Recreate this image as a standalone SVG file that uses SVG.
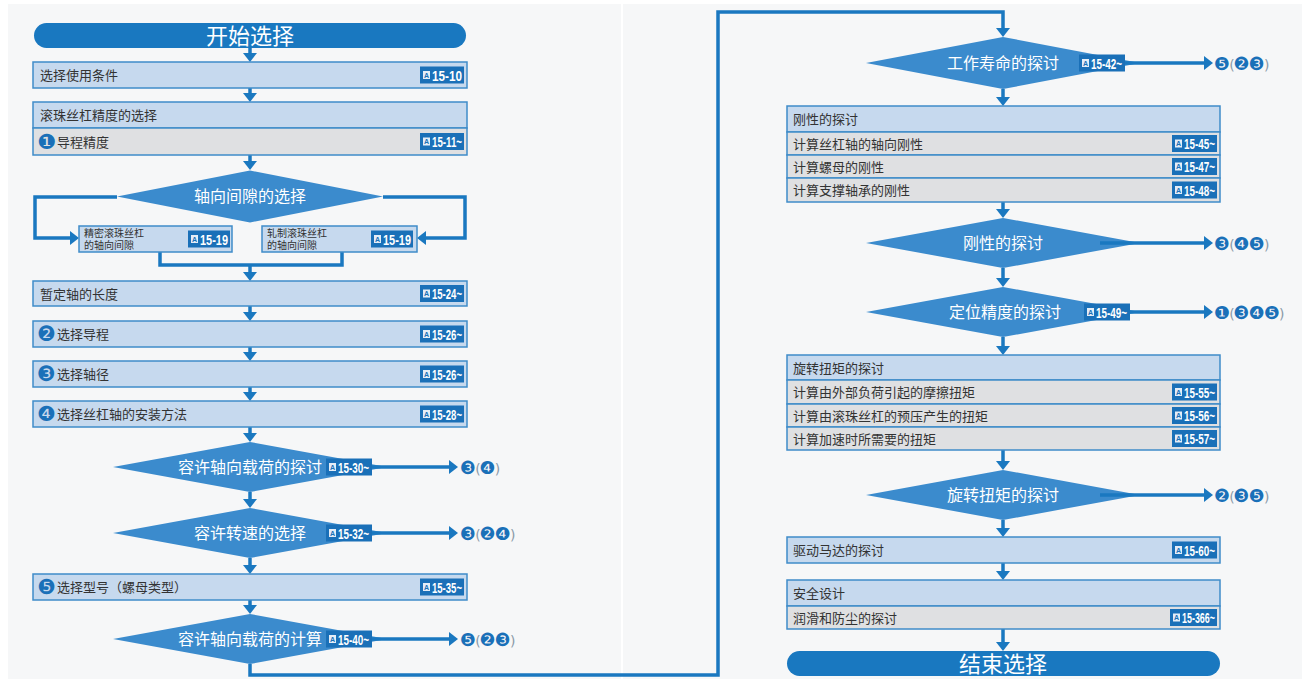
<svg xmlns="http://www.w3.org/2000/svg" xmlns:xlink="http://www.w3.org/1999/xlink" width="1302" height="679" viewBox="0 0 1302 679">
<style>
.bx{fill:#c6d9ee;stroke:#3f8cc9;stroke-width:1.5}
.gr{fill:#dfe0e2;stroke:#3f8cc9;stroke-width:1.5}
.t{font-family:"Noto Sans CJK SC",sans-serif;font-size:13px;fill:#333}
.ts{font-family:"Noto Sans CJK SC",sans-serif;font-size:10px;fill:#333}
.dm{fill:#3b8bcd}
.dt{font-family:"Noto Sans CJK SC",sans-serif;font-size:16px;fill:#fff;text-anchor:middle}
.pill{fill:#1978c0}
.pt{font-family:"Noto Sans CJK SC",sans-serif;font-size:22px;fill:#fff;text-anchor:middle}
.bd{fill:#1a70b8}
.ic{fill:#e4edf7}
.it{font-family:"Liberation Sans",sans-serif;font-size:7px;font-weight:bold;fill:#1a70b8;text-anchor:middle}
.bt{font-family:"Liberation Sans",sans-serif;font-weight:bold;font-size:14px;fill:#fff}
.c{stroke:#1a78c0;stroke-width:3.5;fill:none}
.num{font-family:"DejaVu Sans",sans-serif;font-size:21px;fill:#1a70b8}
.lab{font-family:"DejaVu Sans",sans-serif;font-size:18px;fill:#1a70b8;letter-spacing:-1px}
.par{fill:#8a9aa8;font-size:14px}
</style>
<defs>
<marker id="ah" markerUnits="userSpaceOnUse" markerWidth="9" markerHeight="14" refX="0" refY="7" orient="auto" viewBox="0 0 9 14">
<path d="M0,0 L9,7 L0,14 z" fill="#1a78c0"/>
</marker>
<g id="ico"><rect class="ic" x="0" y="0" width="7" height="8"/><text class="it" x="3.5" y="6.8">A</text></g>
</defs>
<rect x="0" y="0" width="1302" height="679" fill="#ffffff"/>
<rect x="8" y="4" width="1294" height="675" fill="#f6f7f8"/>
<rect x="621" y="0" width="2" height="679" fill="#ffffff"/>

<g id="connectors">
<path class="c" d="M250,48 V53" marker-end="url(#ah)"/>
<path class="c" d="M250,88 V93" marker-end="url(#ah)"/>
<path class="c" d="M250,155 V161" marker-end="url(#ah)"/>
<path class="c" d="M117,197 H35 V238 H70" marker-end="url(#ah)"/>
<path class="c" d="M383,197 H465 V238 H426" marker-end="url(#ah)"/>
<path class="c" d="M160,252 V265 H342 V252"/>
<path class="c" d="M250,265 V272" marker-end="url(#ah)"/>
<path class="c" d="M250,306 V312" marker-end="url(#ah)"/>
<path class="c" d="M250,347 V352" marker-end="url(#ah)"/>
<path class="c" d="M250,387 V392" marker-end="url(#ah)"/>
<path class="c" d="M250,427 V433" marker-end="url(#ah)"/>
<path class="c" d="M250,492 V499" marker-end="url(#ah)"/>
<path class="c" d="M250,558 V565" marker-end="url(#ah)"/>
<path class="c" d="M250,600 V605" marker-end="url(#ah)"/>
<path class="c" d="M250,664 V675 H718 V12 H1003 V28" marker-end="url(#ah)"/>
<path class="c" d="M1003,89 V97" marker-end="url(#ah)"/>
<path class="c" d="M1003,202 V209" marker-end="url(#ah)"/>
<path class="c" d="M1003,268 V278" marker-end="url(#ah)"/>
<path class="c" d="M1003,337 V346" marker-end="url(#ah)"/>
<path class="c" d="M1003,450 V461" marker-end="url(#ah)"/>
<path class="c" d="M1003,520 V528" marker-end="url(#ah)"/>
<path class="c" d="M1003,563 V571" marker-end="url(#ah)"/>
<path class="c" d="M1003,629 V642" marker-end="url(#ah)"/>
</g>

<g id="start">
<rect class="pill" x="34" y="23" width="432" height="25" rx="12.5"/>
<text class="pt" x="250" y="44">开始选择</text>
</g>

<g id="n-conditions">
<rect class="bx" x="33" y="62" width="434" height="26"/>
<text class="t" x="40" y="80">选择使用条件</text>
<rect class="bd" x="420" y="66.5" width="44" height="17"/><use xlink:href="#ico" x="423" y="71"/>
<text class="bt" x="432" y="80.5" textLength="30" lengthAdjust="spacingAndGlyphs">15-10</text>
</g>

<g id="n-precision">
<rect class="bx" x="33" y="102" width="434" height="26"/>
<text class="t" x="40" y="120">滚珠丝杠精度的选择</text>
<rect class="gr" x="33" y="128" width="434" height="27"/>
<text class="num" x="37" y="149">❶</text>
<text class="t" x="57" y="147">导程精度</text>
<rect class="bd" x="420" y="133" width="44" height="17"/><use xlink:href="#ico" x="423" y="137.5"/>
<text class="bt" x="432" y="147" textLength="30" lengthAdjust="spacingAndGlyphs">15-11~</text>
</g>

<g id="d-clearance">
<polygon class="dm" points="117,196.5 250,170.5 383,196.5 250,222.5"/>
<text class="dt" x="250" y="202">轴向间隙的选择</text>
</g>

<g id="n-precision-clearance">
<rect class="bx" x="79" y="226" width="153" height="26"/>
<text class="ts" x="84" y="236.5">精密滚珠丝杠</text>
<text class="ts" x="84" y="249">的轴向间隙</text>
<rect class="bd" x="188" y="230.5" width="42" height="17"/><use xlink:href="#ico" x="191" y="235"/>
<text class="bt" x="200" y="244.5" textLength="28" lengthAdjust="spacingAndGlyphs">15-19</text>
</g>

<g id="n-rolled-clearance">
<rect class="bx" x="262" y="226" width="155" height="26"/>
<text class="ts" x="267" y="236.5">轧制滚珠丝杠</text>
<text class="ts" x="267" y="249">的轴向间隙</text>
<rect class="bd" x="371" y="230.5" width="42" height="17"/><use xlink:href="#ico" x="374" y="235"/>
<text class="bt" x="383" y="244.5" textLength="28" lengthAdjust="spacingAndGlyphs">15-19</text>
</g>

<g id="n-length">
<rect class="bx" x="33" y="281" width="434" height="25"/>
<text class="t" x="40" y="298.5">暂定轴的长度</text>
<rect class="bd" x="420" y="285" width="44" height="17"/><use xlink:href="#ico" x="423" y="289.5"/>
<text class="bt" x="432" y="299" textLength="30" lengthAdjust="spacingAndGlyphs">15-24~</text>
</g>

<g id="n-lead">
<rect class="bx" x="33" y="321" width="434" height="26"/>
<text class="num" x="37" y="341">❷</text>
<text class="t" x="57" y="339">选择导程</text>
<rect class="bd" x="420" y="325.5" width="44" height="17"/><use xlink:href="#ico" x="423" y="330"/>
<text class="bt" x="432" y="339.5" textLength="30" lengthAdjust="spacingAndGlyphs">15-26~</text>
</g>

<g id="n-diameter">
<rect class="bx" x="33" y="361" width="434" height="26"/>
<text class="num" x="37" y="381">❸</text>
<text class="t" x="57" y="379">选择轴径</text>
<rect class="bd" x="420" y="365.5" width="44" height="17"/><use xlink:href="#ico" x="423" y="370"/>
<text class="bt" x="432" y="379.5" textLength="30" lengthAdjust="spacingAndGlyphs">15-26~</text>
</g>

<g id="n-mounting">
<rect class="bx" x="33" y="401" width="434" height="26"/>
<text class="num" x="37" y="421">❹</text>
<text class="t" x="57" y="419">选择丝杠轴的安装方法</text>
<rect class="bd" x="420" y="405.5" width="44" height="17"/><use xlink:href="#ico" x="423" y="410"/>
<text class="bt" x="432" y="419.5" textLength="30" lengthAdjust="spacingAndGlyphs">15-28~</text>
</g>

<g id="d-axial-load">
<polygon class="dm" points="113,467 250,442 387,467 250,492"/>
<text class="dt" x="250" y="472.5">容许轴向载荷的探讨</text>
<rect class="bd" x="326" y="458.5" width="46" height="17"/><use xlink:href="#ico" x="329" y="463"/>
<text class="bt" x="338" y="472.5" textLength="31" lengthAdjust="spacingAndGlyphs">15-30~</text>
<path class="c" d="M372,467 H449" marker-end="url(#ah)"/>
<text class="lab" x="460" y="473.5">❸<tspan class="par">(</tspan>❹<tspan class="par">)</tspan></text>
</g>

<g id="d-speed">
<polygon class="dm" points="113,533 250,508 387,533 250,558"/>
<text class="dt" x="250" y="538.5">容许转速的选择</text>
<rect class="bd" x="326" y="524.5" width="46" height="17"/><use xlink:href="#ico" x="329" y="529"/>
<text class="bt" x="338" y="538.5" textLength="31" lengthAdjust="spacingAndGlyphs">15-32~</text>
<path class="c" d="M372,533 H449" marker-end="url(#ah)"/>
<text class="lab" x="460" y="539.5">❸<tspan class="par">(</tspan>❷❹<tspan class="par">)</tspan></text>
</g>

<g id="n-model">
<rect class="bx" x="33" y="574" width="434" height="26"/>
<text class="num" x="37" y="594">❺</text>
<text class="t" x="57" y="592">选择型号（螺母类型）</text>
<rect class="bd" x="420" y="578.5" width="44" height="17"/><use xlink:href="#ico" x="423" y="583"/>
<text class="bt" x="432" y="592.5" textLength="30" lengthAdjust="spacingAndGlyphs">15-35~</text>
</g>

<g id="d-axial-calc">
<polygon class="dm" points="113,639 250,614 387,639 250,664"/>
<text class="dt" x="250" y="644.5">容许轴向载荷的计算</text>
<rect class="bd" x="326" y="630.5" width="46" height="17"/><use xlink:href="#ico" x="329" y="635"/>
<text class="bt" x="338" y="644.5" textLength="31" lengthAdjust="spacingAndGlyphs">15-40~</text>
<path class="c" d="M372,639 H449" marker-end="url(#ah)"/>
<text class="lab" x="460" y="645.5">❺<tspan class="par">(</tspan>❷❸<tspan class="par">)</tspan></text>
</g>

<g id="d-life">
<polygon class="dm" points="866,63 1003,37 1140,63 1003,89"/>
<text class="dt" x="1003" y="68.5">工作寿命的探讨</text>
<rect class="bd" x="1079" y="54.5" width="46" height="17"/><use xlink:href="#ico" x="1082" y="59"/>
<text class="bt" x="1091" y="68.5" textLength="31" lengthAdjust="spacingAndGlyphs">15-42~</text>
<path class="c" d="M1125,63 H1204" marker-end="url(#ah)"/>
<text class="lab" x="1214" y="69.5">❺<tspan class="par">(</tspan>❷❸<tspan class="par">)</tspan></text>
</g>

<g id="n-stiffness">
<rect class="bx" x="787" y="106" width="433" height="26"/>
<text class="t" x="793" y="124">刚性的探讨</text>
<rect class="gr" x="787" y="132" width="433" height="23"/>
<text class="t" x="793" y="148.5">计算丝杠轴的轴向刚性</text>
<rect class="bd" x="1172" y="135" width="45" height="17"/><use xlink:href="#ico" x="1175" y="139.5"/>
<text class="bt" x="1184" y="149" textLength="31" lengthAdjust="spacingAndGlyphs">15-45~</text>
<rect class="gr" x="787" y="155" width="433" height="23"/>
<text class="t" x="793" y="171.5">计算螺母的刚性</text>
<rect class="bd" x="1172" y="158" width="45" height="17"/><use xlink:href="#ico" x="1175" y="162.5"/>
<text class="bt" x="1184" y="172" textLength="31" lengthAdjust="spacingAndGlyphs">15-47~</text>
<rect class="gr" x="787" y="178" width="433" height="24"/>
<text class="t" x="793" y="195">计算支撑轴承的刚性</text>
<rect class="bd" x="1172" y="181.5" width="45" height="17"/><use xlink:href="#ico" x="1175" y="186"/>
<text class="bt" x="1184" y="195.5" textLength="31" lengthAdjust="spacingAndGlyphs">15-48~</text>
</g>

<g id="d-stiffness">
<polygon class="dm" points="866,243 1003,218 1140,243 1003,268"/>
<text class="dt" x="1003" y="248.5">刚性的探讨</text>
<path class="c" d="M1100,243 H1204" marker-end="url(#ah)"/>
<text class="lab" x="1214" y="249.5">❸<tspan class="par">(</tspan>❹❺<tspan class="par">)</tspan></text>
</g>

<g id="d-positioning">
<polygon class="dm" points="866,312 1003,287 1140,312 1003,337"/>
<text class="dt" x="1005" y="317.5">定位精度的探讨</text>
<rect class="bd" x="1084" y="303.5" width="46" height="17"/><use xlink:href="#ico" x="1087" y="308"/>
<text class="bt" x="1096" y="317.5" textLength="31" lengthAdjust="spacingAndGlyphs">15-49~</text>
<path class="c" d="M1130,312 H1204" marker-end="url(#ah)"/>
<text class="lab" x="1214" y="318.5">❶<tspan class="par">(</tspan>❸❹❺<tspan class="par">)</tspan></text>
</g>

<g id="n-torque">
<rect class="bx" x="787" y="355" width="433" height="25"/>
<text class="t" x="793" y="372.5">旋转扭矩的探讨</text>
<rect class="gr" x="787" y="380" width="433" height="24"/>
<text class="t" x="793" y="397">计算由外部负荷引起的摩擦扭矩</text>
<rect class="bd" x="1172" y="383.5" width="45" height="17"/><use xlink:href="#ico" x="1175" y="388"/>
<text class="bt" x="1184" y="397.5" textLength="31" lengthAdjust="spacingAndGlyphs">15-55~</text>
<rect class="gr" x="787" y="404" width="433" height="23"/>
<text class="t" x="793" y="420.5">计算由滚珠丝杠的预压产生的扭矩</text>
<rect class="bd" x="1172" y="407" width="45" height="17"/><use xlink:href="#ico" x="1175" y="411.5"/>
<text class="bt" x="1184" y="421" textLength="31" lengthAdjust="spacingAndGlyphs">15-56~</text>
<rect class="gr" x="787" y="427" width="433" height="23"/>
<text class="t" x="793" y="443.5">计算加速时所需要的扭矩</text>
<rect class="bd" x="1172" y="430" width="45" height="17"/><use xlink:href="#ico" x="1175" y="434.5"/>
<text class="bt" x="1184" y="444" textLength="31" lengthAdjust="spacingAndGlyphs">15-57~</text>
</g>

<g id="d-torque">
<polygon class="dm" points="866,495 1003,470 1140,495 1003,520"/>
<text class="dt" x="1003" y="500.5">旋转扭矩的探讨</text>
<path class="c" d="M1100,495 H1204" marker-end="url(#ah)"/>
<text class="lab" x="1214" y="501.5">❷<tspan class="par">(</tspan>❸❺<tspan class="par">)</tspan></text>
</g>

<g id="n-motor">
<rect class="bx" x="787" y="537" width="433" height="26"/>
<text class="t" x="793" y="555">驱动马达的探讨</text>
<rect class="bd" x="1172" y="541.5" width="45" height="17"/><use xlink:href="#ico" x="1175" y="546"/>
<text class="bt" x="1184" y="555.5" textLength="31" lengthAdjust="spacingAndGlyphs">15-60~</text>
</g>

<g id="n-safety">
<rect class="bx" x="787" y="580" width="433" height="26"/>
<text class="t" x="793" y="598">安全设计</text>
<rect class="gr" x="787" y="606" width="433" height="23"/>
<text class="t" x="793" y="622.5">润滑和防尘的探讨</text>
<rect class="bd" x="1170" y="609" width="47" height="17"/><use xlink:href="#ico" x="1173" y="613.5"/>
<text class="bt" x="1182" y="623" textLength="33" lengthAdjust="spacingAndGlyphs">15-366~</text>
</g>

<g id="end">
<rect class="pill" x="787" y="651" width="433" height="25" rx="12.5"/>
<text class="pt" x="1003" y="671.5">结束选择</text>
</g>
</svg>
